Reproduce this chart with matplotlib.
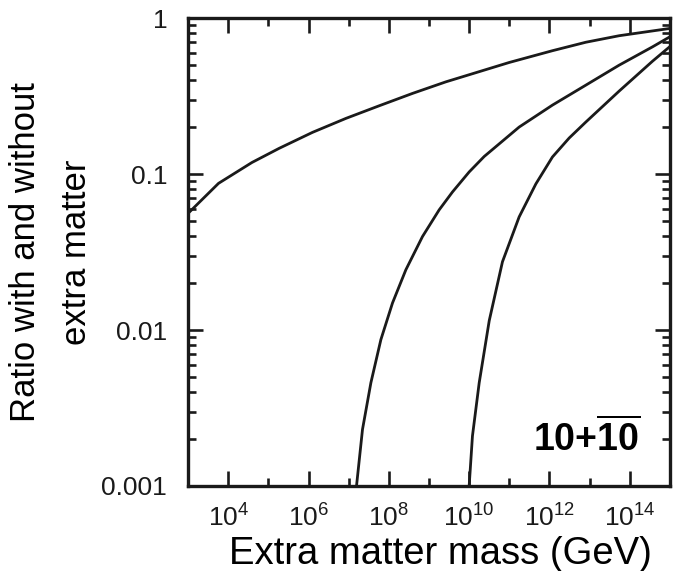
import matplotlib
matplotlib.use("Agg")
import matplotlib.pyplot as plt
from matplotlib.ticker import FixedLocator, LogLocator, NullFormatter
import numpy as np

plt.rcParams['font.family'] = ['Liberation Sans', 'DejaVu Sans']
plt.rcParams['mathtext.fontset'] = 'custom'
plt.rcParams['mathtext.rm'] = 'Liberation Sans'
plt.rcParams['mathtext.bf'] = 'Liberation Sans:bold'

# log10 of extra matter mass (GeV) and ratio
c1_logm = [3.0, 3.759, 4.591, 5.270, 6.099, 6.931, 7.760, 8.589, 9.420, 10.249, 10.996,
           12.074, 12.905, 13.734, 14.979]
c1_ratio = [0.0560, 0.0873, 0.1188, 0.1465, 0.1854, 0.2279, 0.2746, 0.3296, 0.3910, 0.4544, 0.5204,
            0.6194, 0.7018, 0.7727, 0.8592]

c2_logm = [7.195, 7.344, 7.553, 7.802, 8.091, 8.424, 8.838, 9.253, 9.585, 10.0, 10.374, 11.245,
           12.074, 12.905, 13.734, 14.563, 14.979]
c2_ratio = [0.001, 0.002304, 0.004592, 0.008685, 0.01491, 0.02436, 0.0398, 0.0590, 0.0769, 0.1033, 0.1298, 0.2005,
            0.2773, 0.3724, 0.5001, 0.6551, 0.7557]

c3_logm = [10.0, 10.082, 10.250, 10.500, 10.829, 11.245, 11.661, 12.074, 12.490, 12.905, 13.734, 14.563, 14.979]
c3_ratio = [0.001, 0.00209, 0.00459, 0.01149, 0.0274, 0.0532, 0.0866, 0.1289, 0.1705, 0.2159, 0.3409, 0.5297, 0.652]

x_major = [1e4, 1e6, 1e8, 1e10, 1e12, 1e14]
x_minor = [1e3, 1e5, 1e7, 1e9, 1e11, 1e13, 1e15]
x_labels = ['10$^{4}$', '10$^{6}$', '10$^{8}$', '10$^{10}$', '10$^{12}$', '10$^{14}$']
y_major = [0.001, 0.01, 0.1, 1]
y_labels = ['0.001', '0.01', '0.1', '1']

fig = plt.figure(figsize=(6.74, 5.71), dpi=100)
ax = fig.add_axes([0.279, 0.149, 0.715, 0.819])

for lm, r in [(c1_logm, c1_ratio), (c2_logm, c2_ratio), (c3_logm, c3_ratio)]:
    ax.plot(10.0 ** np.array(lm), r, color='#1a1a1a', lw=2.0, solid_joinstyle='round')

ax.set_xscale('log')
ax.set_yscale('log')
ax.set_xlim(1e3, 1e15)
ax.set_ylim(1e-3, 1)

ax.xaxis.set_major_locator(FixedLocator(x_major))
ax.xaxis.set_minor_locator(FixedLocator(x_minor))
ax.set_xticklabels(x_labels)
ax.xaxis.set_minor_formatter(NullFormatter())
ax.yaxis.set_major_locator(FixedLocator(y_major))
ax.set_yticklabels(y_labels)
ax.yaxis.set_minor_locator(LogLocator(base=10, subs=np.arange(2, 10)))
ax.yaxis.set_minor_formatter(NullFormatter())

ax.tick_params(which='both', direction='in', top=True, right=True, width=1.9, colors='#1a1a1a')
ax.tick_params(which='major', length=11)
ax.tick_params(which='minor', length=6)
ax.tick_params(axis='x', which='major', labelsize=19, pad=12)
ax.tick_params(axis='y', which='major', labelsize=19, pad=15)
for s in ax.spines.values():
    s.set_linewidth(2.4)
    s.set_color('#1a1a1a')

ax.set_xlabel('Extra matter mass (GeV)', fontsize=27.5, labelpad=4)
ax.xaxis.label.set_x(0.523)
ax.set_ylabel('Ratio with and without\nextra matter', fontsize=25, labelpad=6, linespacing=1.7)

ax.text(0.938, 0.058, r'$\mathbf{10{+}\overline{10}}$', transform=ax.transAxes,
        ha='right', va='bottom', fontsize=27)

fig.savefig('out.png', dpi=100)
